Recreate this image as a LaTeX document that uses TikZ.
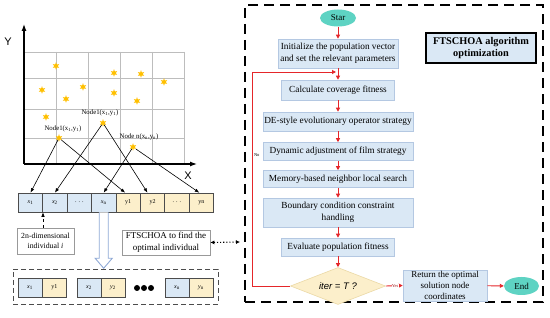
\documentclass[tikz,border=0pt]{standalone}
\usepackage{fontspec}
\setmainfont{Liberation Serif}
\setsansfont{Liberation Sans}
\usetikzlibrary{arrows.meta,shapes.geometric,calc}
\definecolor{boxblue}{HTML}{DAE8F5}
\definecolor{boxedge}{HTML}{B4C8E2}
\definecolor{cellyel}{HTML}{FCEFCB}
\definecolor{yeledge}{HTML}{EBD9A6}
\definecolor{termteal}{HTML}{5ED3C3}
\definecolor{flowred}{HTML}{E5262A}
\definecolor{starcol}{HTML}{FFC000}
\definecolor{gridgray}{HTML}{BDBDBD}
\definecolor{bigarrowcol}{HTML}{8FA9D6}
\newcommand{\vx}[1]{\textit{x}\textsubscript{#1}}
\newcommand{\vy}[1]{\textit{y}\textsubscript{#1}}
\begin{document}
\begin{tikzpicture}[x=1pt,y=-1pt,
  fbox/.style={draw=boxedge, fill=boxblue, line width=0.6pt, align=center, inner sep=0.5pt, font=\fontsize{9.3}{12}\selectfont},
  term/.style={ellipse, fill=termteal, draw=none, inner sep=0pt, font=\fontsize{9}{10}\selectfont},
  flow/.style={draw=flowred, line width=0.9pt, -{Triangle[length=4pt,width=4pt]}},
  cellb/.style={draw=black!70, line width=0.6pt, fill=boxblue, minimum width=24.4pt, minimum height=19pt, inner sep=0pt, font=\fontsize{6}{7}\selectfont},
  celly/.style={cellb, fill=cellyel},
  staricon/.style={star, star points=6, star point ratio=2.2, fill=starcol, draw=none, minimum size=7.5pt, inner sep=0pt},
  nlabel/.style={font=\fontsize{6.8}{7}\selectfont, inner sep=0pt},
  karrow/.style={-{Latex[length=4.5pt,width=3.5pt]}, line width=0.6pt},
  gbox/.style={draw=black!40, line width=0.6pt, fill=white, align=center, inner sep=1pt},
  tiny/.style={font=\fontsize{4.5}{5}\selectfont, inner sep=0.3pt}
]
\useasboundingbox (0,0) rectangle (550,318);
\fill[white] (0,0) rectangle (550,318);

% ---------- grid and axes ----------
\foreach \gx in {56,88,120,152,184} \draw[gridgray, line width=0.8pt] (\gx,52) -- (\gx,164);
\foreach \gy in {52,78,109,138} \draw[gridgray, line width=0.8pt] (24,\gy) -- (184,\gy);
\draw[line width=1.2pt, -{Latex[length=7pt,width=5pt]}] (24,164) -- (24,24);
\draw[line width=1.2pt, -{Latex[length=7pt,width=5pt]}] (24,164) -- (197,164);
\node[font=\sffamily\fontsize{11}{12}\selectfont] (ylab) at (8,42) {Y};
\node[font=\sffamily\fontsize{11}{12}\selectfont] (xlab) at (188,176) {X};

% ---------- stars ----------
\foreach \sx/\sy in {56/66,114/73,141/74,164/82,42/90,83/87,114/93,66/99,137/101,46/117}
  \node[staricon] at (\sx,\sy) {};
\node[staricon] (sA) at (59,138) {};
\node[staricon] (sB) at (103,123) {};
\node[staricon] (sN) at (133,147) {};
\node[nlabel] (lA) at (63,129) {Node1(x\textsubscript{1},y\textsubscript{1})};
\node[nlabel] (lB) at (100,113) {Node1(x\textsubscript{1},y\textsubscript{1})};
\node[nlabel] (lN) at (139,137) {Node n(x\textsubscript{n},y\textsubscript{n})};

% ---------- upper array ----------
\node[cellb] (c1) at (30.5,202.5) {\vx{1}};
\node[cellb] (c2) at (54.9,202.5) {\vx{2}};
\node[cellb] (c3) at (79.3,202.5) {. . .};
\node[cellb] (c4) at (103.7,202.5) {\vx{n}};
\node[celly] (c5) at (128.1,202.5) {y1};
\node[celly] (c6) at (152.5,202.5) {y2};
\node[celly] (c7) at (176.9,202.5) {. . .};
\node[celly] (c8) at (201.3,202.5) {yn};

\draw[karrow] (sA) -- (c1.north);
\draw[karrow] (sA) -- ($(c5.north)+(-3,0)$);
\draw[karrow] (sB) -- (c2.north);
\draw[karrow] (sB) -- ($(c6.north)+(-5,0)$);
\draw[karrow] (sN) -- (c4.north);
\draw[karrow] (sN) -- ($(c8.north)+(-2,0)$);

% ---------- boxes below ----------
\node[gbox, font=\fontsize{7.8}{10}\selectfont, minimum width=57pt, minimum height=26pt] (nbox) at (45.5,241) {2n-dimensional\\individual \textit{i}};
\draw[karrow, dashed] (nbox.north -| c1.south east) -- (c1.south east);
\node[gbox, font=\fontsize{9}{11.5}\selectfont, minimum width=88pt, minimum height=25pt] (fts) at (166,242.5) {FTSCHOA to find the\\optimal individual};

% big hollow arrow
\begin{scope}[shift={(c4.south)}]
  \draw[draw=bigarrowcol, fill=white, line width=0.9pt, line join=miter]
    (-4.5,0) -- (-4.5,46) -- (-8.5,46) -- (0,56) -- (8.5,46) -- (4.5,46) -- (4.5,0);
\end{scope}

% ---------- lower dashed box ----------
\node[draw=black!70, dash pattern=on 5pt off 3pt, line width=0.9pt, minimum width=205pt, minimum height=35pt, inner sep=0pt] (lowbox) at (115.5,286.5) {};
\node[cellb, minimum width=24pt] (d1) at (30,287.5) {\vx{1}};
\node[celly, minimum width=24pt] (d2) at (54.5,287.5) {y1};
\node[cellb, minimum width=24pt] (d3) at (89,287.5) {\vx{2}};
\node[celly, minimum width=24pt] (d4) at (113,287.5) {\vy{2}};
\foreach \dx in {137,144,151} \fill[black] (\dx,288) circle (3pt);
\node[cellb, minimum width=24pt] (d5) at (177,287.5) {\vx{n}};
\node[celly, minimum width=24pt] (d6) at (201,287.5) {\vy{n}};

% ---------- right panel ----------
\node[draw=black, dash pattern=on 10pt off 6pt, line width=1.3pt, minimum width=298pt, minimum height=297pt, inner sep=0pt] (panel) at (394,153.5) {};
\coordinate (dotend) at (240,242);
\draw[{Latex[length=4pt,width=4pt]}-{Latex[length=4pt,width=4pt]}, dotted, line width=1.1pt] (fts.east) -- (dotend);

\node[draw=black, line width=1.4pt, fill=boxblue, align=center, inner sep=1pt, font=\bfseries\fontsize{10.3}{12.5}\selectfont, minimum width=110pt, minimum height=30pt] (title) at (481,48) {FTSCHOA algorithm\\optimization};

\node[term, minimum width=36pt, minimum height=17pt] (start) at (338,18) {Star};
\node[fbox, minimum width=120pt, minimum height=29pt] (b1) at (338,53.5) {Initialize the population vector\\and set the relevant parameters};
\node[fbox, minimum width=113pt, minimum height=20pt] (b2) at (338,90) {Calculate coverage fitness};
\node[fbox, minimum width=150pt, minimum height=19pt] (b3) at (338,121.5) {DE-style evolutionary operator strategy};
\node[fbox, minimum width=150pt, minimum height=18pt] (b4) at (338,151.5) {Dynamic adjustment of film strategy};
\node[fbox, minimum width=150pt, minimum height=17pt] (b5) at (338,179) {Memory-based neighbor local search};
\node[fbox, minimum width=150pt, minimum height=29pt] (b6) at (338,212.5) {Boundary condition constraint\\handling};
\node[fbox, minimum width=113pt, minimum height=18pt] (b7) at (338,247) {Evaluate population fitness};
\node[diamond, aspect=2.5, draw=yeledge, fill=cellyel, line width=0.6pt, inner sep=0pt, minimum width=95pt, minimum height=37pt, font=\sffamily\itshape\fontsize{9.5}{10}\selectfont] (dia) at (338,286) {iter = T ?};
\node[fbox, minimum width=84pt, minimum height=31pt, inner sep=0pt, font=\fontsize{9}{10.8}\selectfont] (b8) at (445,285.5) {Return the optimal\\solution node\\coordinates};
\node[term, minimum width=35pt, minimum height=18pt] (end) at (521.5,286) {End};

\draw[flow] (start) -- (b1);
\draw[flow] (b1) -- (b2);
\draw[flow] (b2) -- (b3);
\draw[flow] (b3) -- (b4);
\draw[flow] (b4) -- (b5);
\draw[flow] (b5) -- (b6);
\draw[flow] (b6) -- (b7);
\draw[flow] (b7) -- (dia);
\draw[flow] (dia.east) -- node[tiny, pos=0.55, fill=white, text=flowred!70!black] {Yes} (b8.west);
\draw[flow] (b8) -- (end);
\coordinate (loopcorner) at (252,72);
\coordinate (loopend) at (336,72);
\draw[flow] (dia.west) -| (loopcorner) -- (loopend);
\node[tiny, anchor=west] (nolab) at (253.5,155) {No};
\end{tikzpicture}
\end{document}
